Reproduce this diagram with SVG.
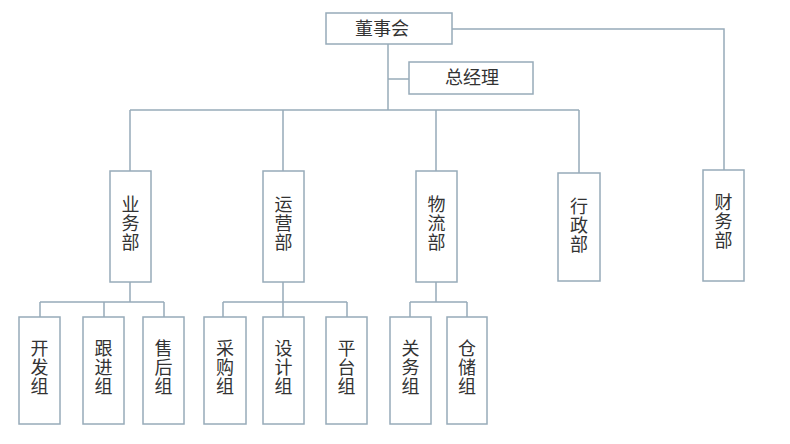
<svg xmlns="http://www.w3.org/2000/svg" width="790" height="444" viewBox="0 0 790 444">
<style>
.box{fill:#fff;stroke:#97abb9;stroke-width:1.5}
.ln{fill:none;stroke:#97abb9;stroke-width:1.5}
.t{font-family:"Noto Sans CJK SC","Noto Sans",sans-serif;font-size:18px;fill:#333;text-anchor:middle}
.v{writing-mode:vertical-rl;text-orientation:upright;letter-spacing:1px}
</style>
<rect width="790" height="444" fill="#fff"/>
<g id="connectors">
<path class="ln" d="M452,29 H724 V170"/>
<path class="ln" d="M388,44 V110"/>
<path class="ln" d="M388,79 H409"/>
<path class="ln" d="M130,110 H579"/>
<path class="ln" d="M130,110 V171 M283,110 V171 M436,110 V171 M579,110 V173"/>
<path class="ln" d="M130,282 V302 M40,302 H164 M40,302 V317 M104,302 V317 M164,302 V317"/>
<path class="ln" d="M283,282 V317 M223,302 H347 M223,302 V317 M347,302 V317"/>
<path class="ln" d="M436,282 V302 M410,302 H467 M410,302 V317 M467,302 V317"/>
</g>
<g id="n-board"><rect class="box" x="326" y="13" width="126" height="31"/><text class="t" x="382" y="35">董事会</text></g>
<g id="n-gm"><rect class="box" x="409" y="62" width="124" height="32"/><text class="t" x="472" y="84">总经理</text></g>
<g id="n-yewu"><rect class="box" x="110" y="171" width="41" height="111"/><text class="t v" x="130.5" y="224">业务部</text></g>
<g id="n-yunying"><rect class="box" x="263" y="171" width="41" height="111"/><text class="t v" x="283.5" y="224">运营部</text></g>
<g id="n-wuliu"><rect class="box" x="416" y="171" width="41" height="111"/><text class="t v" x="436.5" y="224">物流部</text></g>
<g id="n-xingzheng"><rect class="box" x="558" y="173" width="42" height="108"/><text class="t v" x="579" y="226">行政部</text></g>
<g id="n-caiwu"><rect class="box" x="703" y="170" width="41" height="111"/><text class="t v" x="723.5" y="222">财务部</text></g>
<g id="n-kaifa"><rect class="box" x="19" y="317" width="41" height="107"/><text class="t v" x="39.5" y="368">开发组</text></g>
<g id="n-genjin"><rect class="box" x="83" y="317" width="41" height="107"/><text class="t v" x="103.5" y="368">跟进组</text></g>
<g id="n-shouhou"><rect class="box" x="143" y="317" width="41" height="107"/><text class="t v" x="163.5" y="368">售后组</text></g>
<g id="n-caigou"><rect class="box" x="204" y="317" width="42" height="107"/><text class="t v" x="225" y="368">采购组</text></g>
<g id="n-sheji"><rect class="box" x="263" y="317" width="41" height="107"/><text class="t v" x="283.5" y="368">设计组</text></g>
<g id="n-pingtai"><rect class="box" x="326" y="317" width="41" height="107"/><text class="t v" x="346.5" y="368">平台组</text></g>
<g id="n-guanwu"><rect class="box" x="390" y="317" width="41" height="107"/><text class="t v" x="410.5" y="368">关务组</text></g>
<g id="n-cangchu"><rect class="box" x="447" y="317" width="40" height="107"/><text class="t v" x="467" y="368">仓储组</text></g>
</svg>
